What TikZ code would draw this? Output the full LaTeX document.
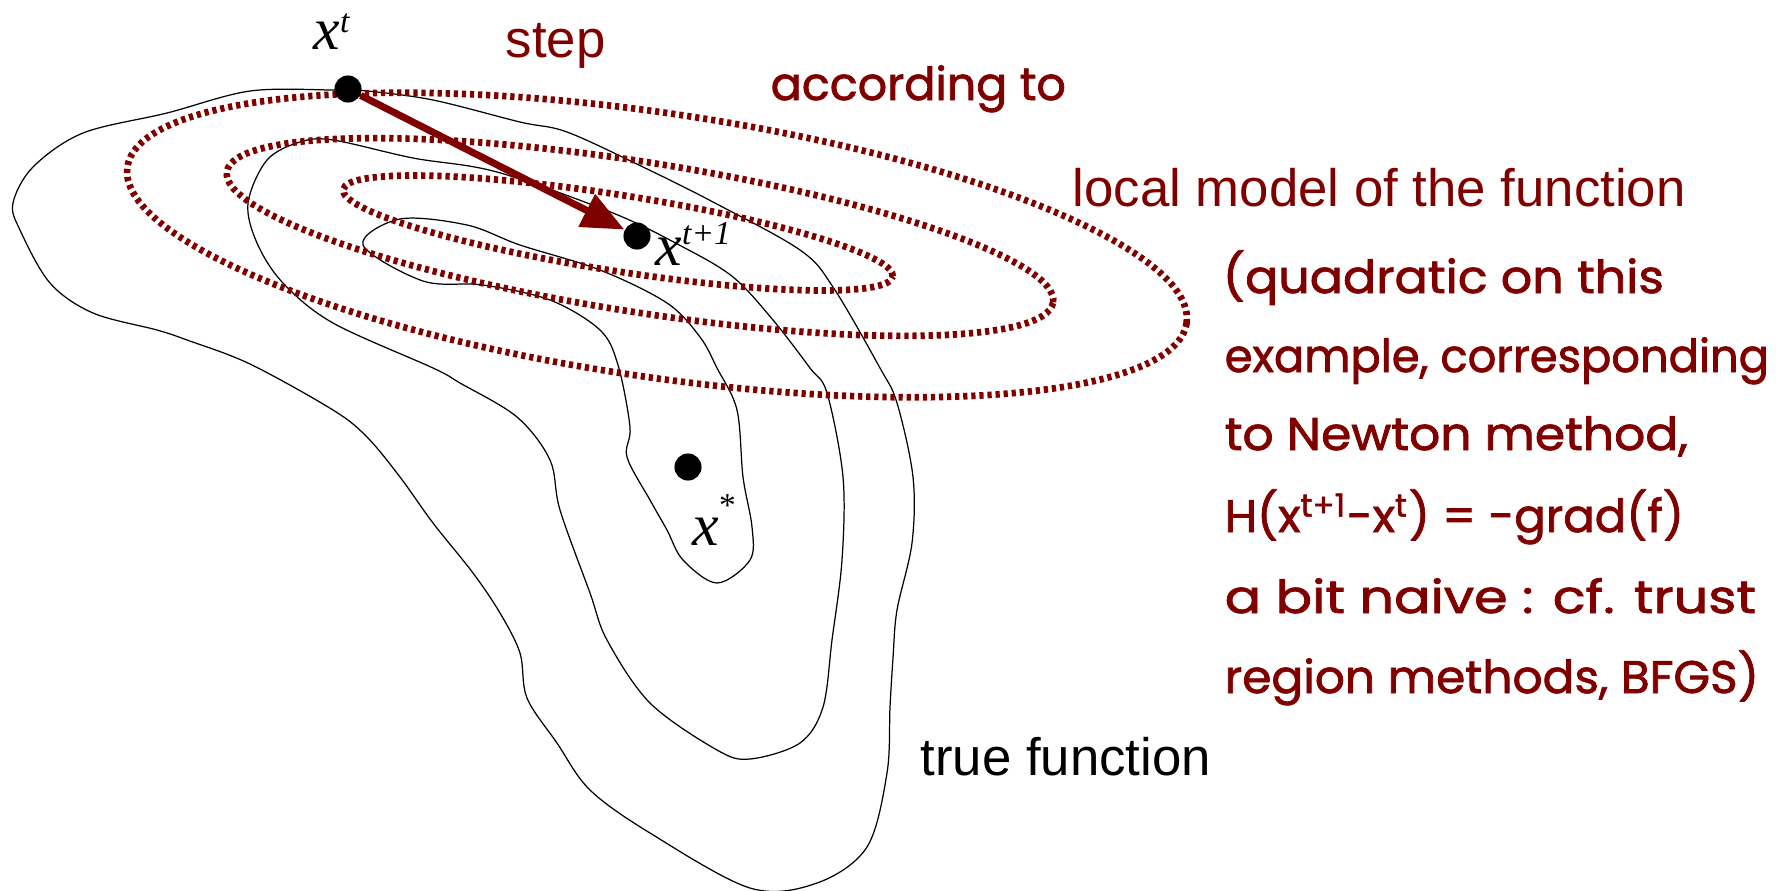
\documentclass[tikz,border=0pt]{standalone}
\usepackage{graphicx}
\usepackage{fontspec}
\setmainfont{Liberation Sans}
\newfontfamily\tms{Liberation Serif}
\newfontfamily\hand[FakeBold=1.6]{Poppins}
\usetikzlibrary{arrows.meta}
\definecolor{mar}{HTML}{800000}
\newcommand{\handline}[2]{\resizebox{#1}{\height}{#2}}
\begin{document}
\begin{tikzpicture}[x=0.01cm,y=-0.01cm,
  contour/.style={line width=0.35pt, black},
  model/.style={mar, line width=1.9pt, dash pattern=on 1.2pt off 1.1pt},
  dot/.style={circle, fill=black, inner sep=0pt, minimum size=7.7pt},
  lab/.style={inner sep=0pt, anchor=base west},
  arialtxt/.style={lab, font=\fontsize{15}{18}\selectfont},
  handw/.style={lab, text=mar, font=\hand\fontsize{13}{15}\selectfont},
  mathx/.style={lab, font=\tms\itshape\fontsize{17}{20}\selectfont}]
\useasboundingbox[fill=white] (0,0) rectangle (1788,890);

% true function contours
\draw[contour] plot[smooth cycle, tension=0.55] coordinates {
 (13,203) (33,167) (83,133) (167,113) (250,91) (333,90) (367,91) (433,100)
 (520,122) (567,132) (643,167) (713,202) (800,250) (833,287) (880,368)
 (897,403) (913,477) (912,543) (897,610) (893,658) (890,707) (887,773)
 (867,847) (817,883) (750,888) (650,833) (590,790) (557,743) (527,698)
 (520,653) (500,613) (473,573) (433,523) (400,477) (367,437) (333,410)
 (250,364) (187,340) (157,330) (93,313) (50,283) (20,230)};
\draw[contour] plot[smooth cycle, tension=0.55] coordinates {
 (248,203) (267,160) (300,142) (333,140) (413,158) (497,172) (613,213)
 (683,247) (733,277) (773,320) (810,368) (827,393) (843,477) (842,560)
 (832,640) (823,707) (800,743) (750,759) (717,750) (650,703) (607,640)
 (590,593) (560,510) (550,460) (517,417) (460,383) (433,368) (333,323)
 (283,283) (257,243)};
\draw[contour] plot[smooth cycle, tension=0.55] coordinates {
 (363,245) (400,219) (467,225) (520,245) (600,270) (667,303) (700,337)
 (717,368) (737,410) (743,477) (752,527) (750,560) (717,583) (683,560)
 (667,530) (650,500) (627,457) (630,427) (618,365) (600,330) (550,300)
 (483,285) (423,281)};

% local quadratic model
\draw[model, shift={(657,245)}, rotate=-8.4] (0,0) ellipse [x radius=5.35cm, y radius=1.32cm];
\draw[model, shift={(640,237)}, rotate=-9] (0,0) ellipse [x radius=4.18cm, y radius=0.75cm];
\draw[model, shift={(618,233)}, rotate=-9] (0,0) ellipse [x radius=2.78cm, y radius=0.38cm];

% points
\node[dot] (xt) at (348,89) {};
\node[dot] (xt1) at (637,236) {};
\node[dot] (xs) at (688,467) {};
\draw[mar, line width=2pt, -{Triangle[length=12pt,width=10pt]}] (xt) -- (xt1);

\node[mathx] (lxt) at (313,49) {x\raisebox{4.8pt}{\fontsize{9.5}{10}\selectfont t}};
\node[mathx] (lxt1) at (655,265) {x\raisebox{5.7pt}{\fontsize{9.5}{10}\selectfont t+1}};
\node[mathx] (lxs) at (692,545) {x\raisebox{8pt}{\upshape\fontsize{9.5}{10}\selectfont *}};

% texts
\node[arialtxt, text=mar] (step) at (505,57) {step};
\node[handw] (acc) at (770,100) {\handline{2.95cm}{according to}};
\node[arialtxt, text=mar] (local) at (1072,206) {local model of the function};
\node[handw] (h1) at (1222,293) {\handline{4.41cm}{(quadratic on this}};
\node[handw] (h2) at (1224,372) {\handline{5.44cm}{example, corresponding}};
\node[handw] (h3) at (1224,450) {\handline{4.63cm}{to Newton method,}};
\node[handw] (h4) at (1224,532) {\handline{4.59cm}{H(x\textsuperscript{t+1}-x\textsuperscript{t}) = -grad(f)}};
\node[handw] (h5) at (1224,613) {\handline{5.31cm}{a bit naive : cf. trust}};
\node[handw] (h6) at (1224,693) {\handline{5.34cm}{region methods, BFGS)}};
\node[arialtxt] (true) at (920,775) {true function};
\end{tikzpicture}
\end{document}
